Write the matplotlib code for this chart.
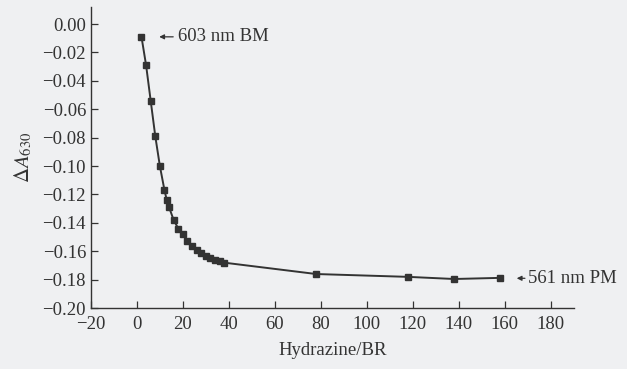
import matplotlib
matplotlib.use('Agg')
from matplotlib import pyplot as plt

# hydrazine / BR ratio vs change in absorbance at 630 nm
ratio = [2, 4, 6, 8, 10, 12, 13, 14, 16, 18, 20, 22, 24, 26, 28, 30, 32, 34, 36, 38,
         78, 118, 138, 158]
delta_a = [-0.009, -0.029, -0.054, -0.079, -0.100, -0.117, -0.124, -0.129, -0.138,
           -0.144, -0.148, -0.153, -0.156, -0.159, -0.161, -0.163, -0.1645, -0.166,
           -0.167, -0.168, -0.176, -0.178, -0.1795, -0.1787]
xticks = [-20, 0, 20, 40, 60, 80, 100, 120, 140, 160, 180]
yticks = [0.00, -0.02, -0.04, -0.06, -0.08, -0.10, -0.12, -0.14, -0.16, -0.18, -0.20]

plt.rcParams['font.family'] = ['Liberation Serif', 'DejaVu Serif']
plt.rcParams['mathtext.fontset'] = 'stix'
plt.rcParams['axes.unicode_minus'] = True

bg = '#eff0f2'
ink = '#333333'

fig = plt.figure(figsize=(6.27, 3.69), dpi=100, facecolor=bg)
ax = fig.add_axes([0.145, 0.165, 0.77, 0.816])
ax.set_facecolor(bg)

ax.plot(ratio, delta_a, color=ink, lw=1.4, marker='s', ms=4, mfc=ink, mec=ink)

ax.set_xlim(-20, 190)
ax.set_ylim(-0.20, 0.012)
ax.set_xticks(xticks)
ax.set_yticks(yticks)
ax.set_yticklabels([f'{v:.2f}'.replace('-', '\u2212') for v in yticks])
ax.tick_params(direction='in', length=5, width=0.9, colors=ink, labelsize=13.5)
ax.tick_params(axis='x', pad=6)
for s in ['top', 'right']:
    ax.spines[s].set_visible(False)
for s in ['left', 'bottom']:
    ax.spines[s].set_color(ink)
    ax.spines[s].set_linewidth(1.0)

ax.set_xlabel('Hydrazine/BR', fontsize=13.5, color=ink, labelpad=6)
ax.set_ylabel(r'$\Delta A_{630}$', fontsize=15, color=ink, labelpad=6)

# labels with arrows
ax.annotate('', xy=(8.5, delta_a[0]), xytext=(17, delta_a[0]),
            arrowprops=dict(arrowstyle='-|>', color=ink, lw=0.9,
                            mutation_scale=7))
ax.text(18, delta_a[0], '603 nm BM', fontsize=13.5, color=ink, va='center', ha='left')
ax.annotate('', xy=(164, -0.179), xytext=(170, -0.179), annotation_clip=False,
            arrowprops=dict(arrowstyle='-|>', color=ink, lw=0.9,
                            mutation_scale=7))
ax.text(170.3, -0.179, '561 nm PM', fontsize=13.5, color=ink, va='center', ha='left',
        clip_on=False)

fig.savefig('out.png', dpi=100, facecolor=bg)
